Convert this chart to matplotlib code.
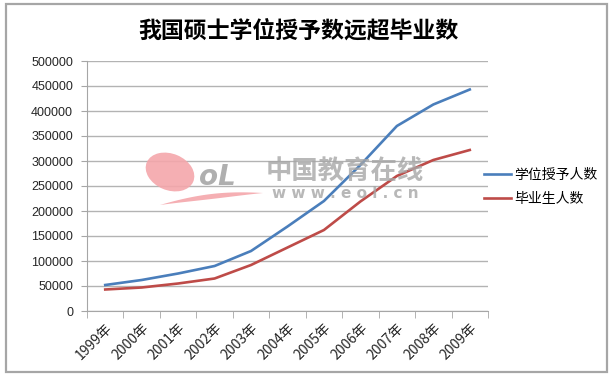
import numpy as np
import matplotlib.pyplot as plt
from matplotlib.patches import Ellipse, Rectangle, Polygon

plt.rcParams['font.family'] = ['Noto Sans CJK SC', 'DejaVu Sans']

years = ['1999年', '2000年', '2001年', '2002年', '2003年', '2004年',
         '2005年', '2006年', '2007年', '2008年', '2009年']
degrees = [52000, 62000, 75000, 90000, 120000, 169000,
           220000, 292000, 370000, 413000, 443000]
graduates = [43000, 47000, 55000, 65000, 92000, 127000,
             162000, 219000, 270000, 302000, 322000]
yticks = np.arange(0, 500001, 50000)

W, H = 610, 375
fig = plt.figure(figsize=(W / 100, H / 100), dpi=100)

def fx(px):
    return px / W

def fy(py):
    return 1 - py / H

# outer frame
fig.patches.append(Rectangle((fx(6), fy(372)), 601 / W, 368 / H,
                             transform=fig.transFigure, fill=False,
                             edgecolor='#a6a6a6', linewidth=1.6))

ax = fig.add_axes([fx(87), fy(311), 401 / W, 250 / H])
x = np.arange(len(years))
ax.plot(x, degrees, color='#4a7ebb', linewidth=1.9, label='学位授予人数', zorder=3)
ax.plot(x, graduates, color='#be4b48', linewidth=1.9, label='毕业生人数', zorder=3)

ax.set_xlim(-0.5, len(years) - 0.5)
ax.set_ylim(0, 500000)
ax.set_yticks(yticks)
ax.set_yticklabels([str(v) for v in yticks], fontsize=9, color='#262626',
                   family=['Liberation Sans', 'DejaVu Sans'])
ax.set_xticks(x)
ax.set_xticklabels(years, rotation=45, ha='right', rotation_mode='anchor',
                   fontsize=10, color='#262626')
ax.set_xticks(np.arange(-0.5, len(years)), minor=True)
ax.tick_params(axis='x', which='major', length=0, pad=7)
ax.tick_params(axis='x', which='minor', length=5, color='#a6a6a6', direction='out')
ax.tick_params(axis='y', length=4, color='#a6a6a6', pad=6)

ax.grid(axis='y', color='#b3b3b3', linewidth=1)
ax.set_axisbelow(True)
for s in ['top', 'right']:
    ax.spines[s].set_visible(False)
for s in ['left', 'bottom']:
    ax.spines[s].set_color('#a6a6a6')

fig.legend(loc='center left', bbox_to_anchor=(fx(478), fy(187)),
           frameon=False, fontsize=10, handlelength=2.0, handletextpad=0.2,
           labelspacing=0.75, borderaxespad=0)

fig.text(fx(298), fy(31), '我国硕士学位授予数远超毕业数', ha='center', va='center',
         fontsize=16.5, fontweight='black', color='black')

# watermark
fig.patches.append(Ellipse((fx(170), fy(172)), 46 / W, 40 / H, angle=20,
                           transform=fig.transFigure, facecolor='#f4a6ab',
                           edgecolor='none', alpha=0.9, zorder=4))
t = np.linspace(0, 1, 30)
sx = 160 + 103 * t
sy = 205 - 12 * t - 10 * t * (1 - t)
upper = [(fx(a), fy(b - 2.5 * np.sin(np.pi * s))) for a, b, s in zip(sx, sy, t)]
lower = [(fx(a), fy(b + 2.5 * np.sin(np.pi * s))) for a, b, s in zip(sx, sy, t)]
fig.patches.append(Polygon(upper + lower[::-1], closed=True, transform=fig.transFigure,
                           facecolor='#f4a6ab', edgecolor='none', alpha=0.9, zorder=4))
fig.text(fx(217), fy(177), 'oL', ha='center', va='center', fontsize=20,
         fontweight='bold', fontstyle='italic', color='#a6a6a6', alpha=0.9,
         family=['DejaVu Sans'], zorder=5)
fig.text(fx(345), fy(172), '中国教育在线', ha='center', va='center', fontsize=19,
         fontweight='bold', color='#a6a6a6', alpha=0.8, zorder=5)
fig.text(fx(345), fy(194), 'w w w . e o l . c n', ha='center', va='center',
         fontsize=11, fontweight='bold', color='#a6a6a6', alpha=0.8,
         family=['DejaVu Sans'], zorder=5)

fig.savefig('out.png', dpi=100)
